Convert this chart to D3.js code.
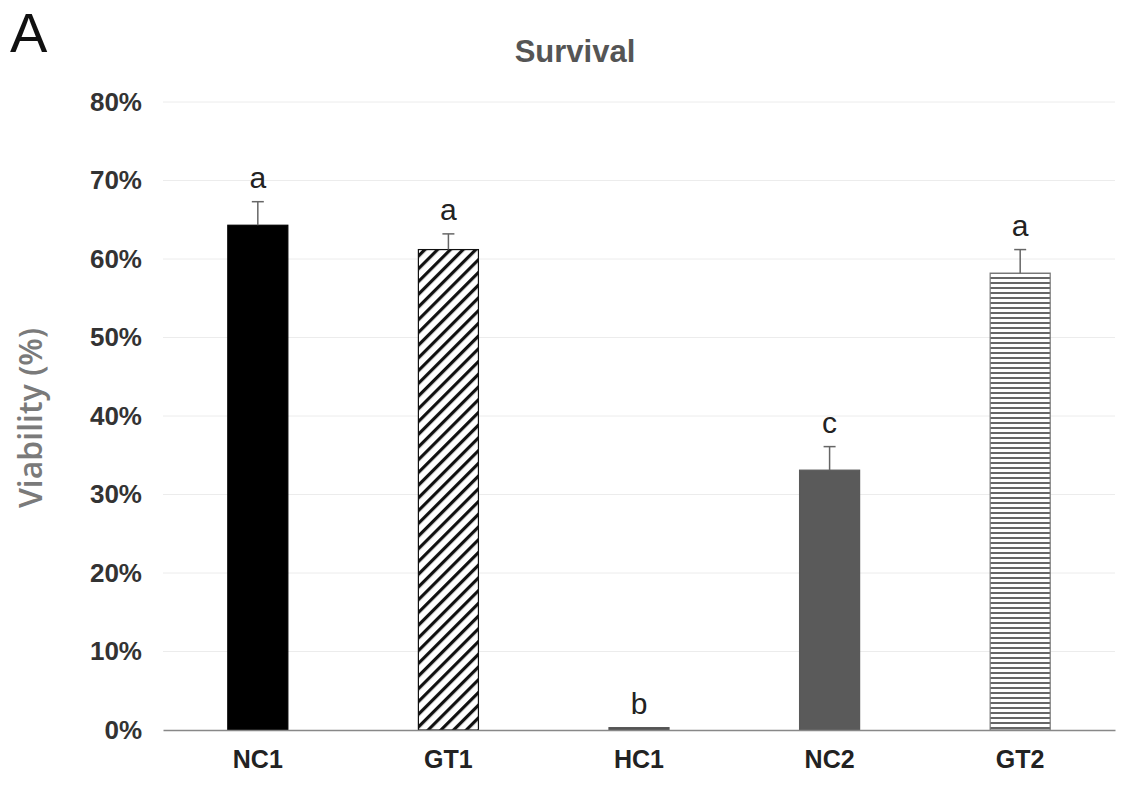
<!DOCTYPE html>
<html>
<head>
<meta charset="utf-8">
<script src="https://cdn.jsdelivr.net/npm/d3@7"></script>
<style>
  body { margin: 0; background: #fff; }
  svg { display: block; font-family: Arial, "Liberation Sans", sans-serif; }
</style>
</head>
<body>
<svg id="chart" width="1135" height="789"></svg>
<script>
// chart values
const groups = ['NC1', 'GT1', 'HC1', 'NC2', 'GT2'];
const viability = [64.3, 61.2, 0.3, 33.1, 58.2];
const errors = [3.0, 2.0, 0, 3.0, 3.0];
const letters = ['a', 'a', 'b', 'c', 'a'];
const yTicks = [0, 10, 20, 30, 40, 50, 60, 70, 80];

const svg = d3.select('#chart');
const margin = { top: 102, right: 20, bottom: 59, left: 163 };
const width = 1135 - margin.left - margin.right;
const height = 789 - margin.top - margin.bottom;

// patterns for the hatched bars
const defs = svg.append('defs');
const diag = defs.append('pattern')
  .attr('id', 'diag')
  .attr('patternUnits', 'userSpaceOnUse')
  .attr('width', 9).attr('height', 9)
  .attr('patternTransform', 'rotate(45)');
diag.append('rect').attr('width', 9).attr('height', 9).attr('fill', '#fff');
diag.append('rect').attr('width', 3.2).attr('height', 9).attr('fill', '#111');

const horiz = defs.append('pattern')
  .attr('id', 'horiz')
  .attr('patternUnits', 'userSpaceOnUse')
  .attr('width', 10).attr('height', 5);
horiz.append('rect').attr('width', 10).attr('height', 5).attr('fill', '#fff');
horiz.append('rect').attr('width', 10).attr('height', 2).attr('fill', '#666');

const fills = ['#000', 'url(#diag)', '#555', '#5a5a5a', 'url(#horiz)'];
const strokes = ['#000', '#111', '#555', '#5a5a5a', '#777'];

const g = svg.append('g')
  .attr('transform', `translate(${margin.left},${margin.top})`);

const x = d3.scaleBand()
  .domain(groups)
  .range([0, width])
  .paddingInner(0.685)
  .paddingOuter(0.34);

const y = d3.scaleLinear()
  .domain([0, 80])
  .range([height, 0]);

// grid
g.append('g')
  .selectAll('line')
  .data(yTicks.slice(1))
  .join('line')
  .attr('x1', 0).attr('x2', width)
  .attr('y1', d => y(d)).attr('y2', d => y(d))
  .attr('stroke', '#ececec')
  .attr('stroke-width', 1);

// y axis labels
const yAxis = g.append('g')
  .call(d3.axisLeft(y).tickValues(yTicks).tickFormat(d => d + '%').tickSize(0).tickPadding(21));
yAxis.select('.domain').remove();
yAxis.selectAll('text')
  .attr('font-size', 26)
  .attr('font-weight', 'bold')
  .attr('fill', '#333');

// bars
g.selectAll('.bar')
  .data(groups)
  .join('rect')
  .attr('class', 'bar')
  .attr('x', d => x(d))
  .attr('width', x.bandwidth())
  .attr('y', (d, i) => y(viability[i]))
  .attr('height', (d, i) => Math.max(2, y(0) - y(viability[i])))
  .attr('fill', (d, i) => fills[i])
  .attr('stroke', (d, i) => strokes[i])
  .attr('stroke-width', 1.2);

// error bars
const eb = g.selectAll('.err')
  .data(groups.filter((d, i) => errors[i] > 0))
  .join('g')
  .attr('class', 'err');
eb.append('line')
  .attr('x1', d => x(d) + x.bandwidth() / 2)
  .attr('x2', d => x(d) + x.bandwidth() / 2)
  .attr('y1', d => y(viability[groups.indexOf(d)]))
  .attr('y2', d => { const i = groups.indexOf(d); return y(viability[i] + errors[i]); })
  .attr('stroke', '#666').attr('stroke-width', 1.5);
eb.append('line')
  .attr('x1', d => x(d) + x.bandwidth() / 2 - 6)
  .attr('x2', d => x(d) + x.bandwidth() / 2 + 6)
  .attr('y1', d => { const i = groups.indexOf(d); return y(viability[i] + errors[i]); })
  .attr('y2', d => { const i = groups.indexOf(d); return y(viability[i] + errors[i]); })
  .attr('stroke', '#666').attr('stroke-width', 1.5);

// significance letters
g.selectAll('.letter')
  .data(groups)
  .join('text')
  .attr('class', 'letter')
  .attr('x', d => x(d) + x.bandwidth() / 2)
  .attr('y', (d, i) => y(viability[i] + errors[i]) - 14)
  .attr('text-anchor', 'middle')
  .attr('font-size', 30)
  .attr('fill', '#222')
  .text((d, i) => letters[i]);

// x axis
const xAxis = g.append('g')
  .attr('transform', `translate(0,${height})`)
  .call(d3.axisBottom(x).tickSize(0).tickPadding(20));
xAxis.select('.domain').attr('stroke', '#888').attr('stroke-width', 1.5);
xAxis.selectAll('text')
  .attr('font-size', 25)
  .attr('font-weight', 'bold')
  .attr('fill', '#222');

// titles
svg.append('text')
  .attr('x', 575).attr('y', 62)
  .attr('text-anchor', 'middle')
  .attr('font-size', 31)
  .attr('font-weight', 'bold')
  .attr('fill', '#555')
  .text('Survival');

svg.append('text')
  .attr('transform', 'translate(42,418) rotate(-90)')
  .attr('text-anchor', 'middle')
  .attr('font-size', 32)
  .attr('fill', '#7a7a7a')
  .style('font-family', '"Open Sans", sans-serif')
  .style('font-weight', 600)
  .text('Viability (%)');

svg.append('text')
  .attr('x', 10).attr('y', 52)
  .attr('font-size', 56)
  .attr('fill', '#111')
  .text('A');
</script>
</body>
</html>
